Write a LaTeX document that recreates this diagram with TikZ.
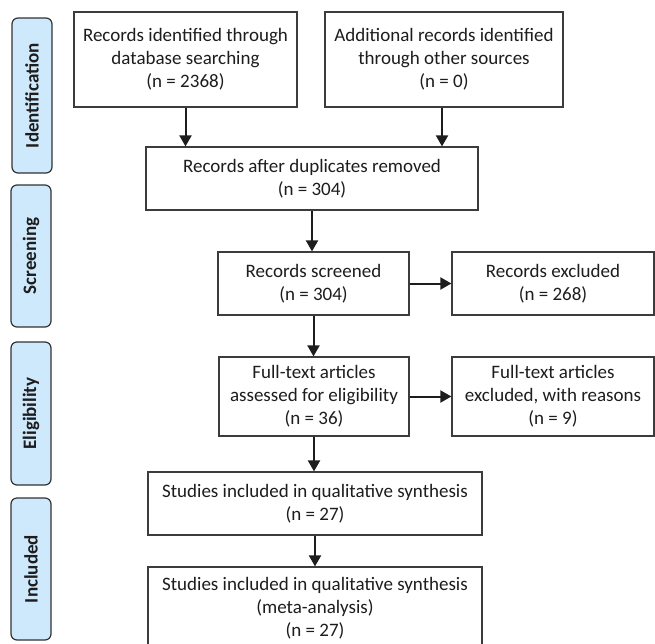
\documentclass[tikz,border=0pt]{standalone}
\usepackage{fontspec}
\setmainfont{Carlito}
\usetikzlibrary{arrows.meta}
\definecolor{sidefill}{RGB}{205,233,251}
\definecolor{sideline}{RGB}{50,50,50}
\definecolor{boxline}{RGB}{60,60,60}
\definecolor{txt}{RGB}{30,28,28}
\tikzset{
  box/.style={draw=boxline, line width=1.2pt, fill=white, inner sep=0pt, align=center,
    font=\fontsize{19}{23}\selectfont, text=txt},
  side/.style={draw=sideline, line width=1.2pt, fill=sidefill, rounded corners=6pt, rotate=90,
    inner sep=0pt, minimum height=40pt, font=\fontsize{19}{23}\selectfont\bfseries, text=txt},
  arr/.style={-{Triangle[width=12pt,length=11pt]}, line width=2pt, draw=txt}
}
\begin{document}
\begin{tikzpicture}[x=1pt,y=-1pt]
\useasboundingbox (0,0) rectangle (655,643);
% side labels
\node[side, minimum width=155pt] (s1) at (32,95.5) {Identification};
\node[side, minimum width=142pt] (s2) at (31,256) {Screening};
\node[side, minimum width=143pt] (s3) at (31,413.5) {Eligibility};
\node[side, minimum width=142pt] (s4) at (31,569) {Included};
% boxes
\node[box, minimum width=223pt, minimum height=95pt] (b1) at (185.5,59.5) {Records identified through\\database searching\\(n = 2368)};
\node[box, minimum width=238pt, minimum height=95pt] (b2) at (444,59.5) {Additional records identified\\through other sources\\(n = 0)};
\node[box, minimum width=332pt, minimum height=63pt] (b3) at (312,178.5) {Records after duplicates removed\\(n = 304)};
\node[box, minimum width=191pt, minimum height=63pt] (b4) at (313.5,283.5) {Records screened\\(n = 304)};
\node[box, minimum width=202pt, minimum height=63pt] (b5) at (553,283.5) {Records excluded\\(n = 268)};
\node[box, minimum width=190pt, minimum height=79pt] (b6) at (314,396.5) {Full-text articles\\assessed for eligibility\\(n = 36)};
\node[box, minimum width=202pt, minimum height=79pt] (b7) at (553,396.5) {Full-text articles\\excluded, with reasons\\(n = 9)};
\node[box, minimum width=334pt, minimum height=63pt] (b8) at (315,503.5) {Studies included in qualitative synthesis\\(n = 27)};
\node[box, minimum width=334pt, minimum height=82pt] (b9) at (315,608) {Studies included in qualitative synthesis\\(meta-analysis)\\(n = 27)};
% connectors
\draw[arr] (b1.south) -- (b1.south |- b3.north);
\draw[arr] ([xshift=-2pt]b2.south) -- ([xshift=-2pt]b2.south |- b3.north);
\draw[arr] (b3.south) -- (b3.south |- b4.north);
\draw[arr] (b4.east) -- (b5.west);
\draw[arr] (b4.south) -- (b4.south |- b6.north);
\draw[arr] (b6.east) -- (b7.west);
\draw[arr] (b6.south) -- (b6.south |- b8.north);
\draw[arr] (b8.south) -- (b8.south |- b9.north);
\end{tikzpicture}
\end{document}
